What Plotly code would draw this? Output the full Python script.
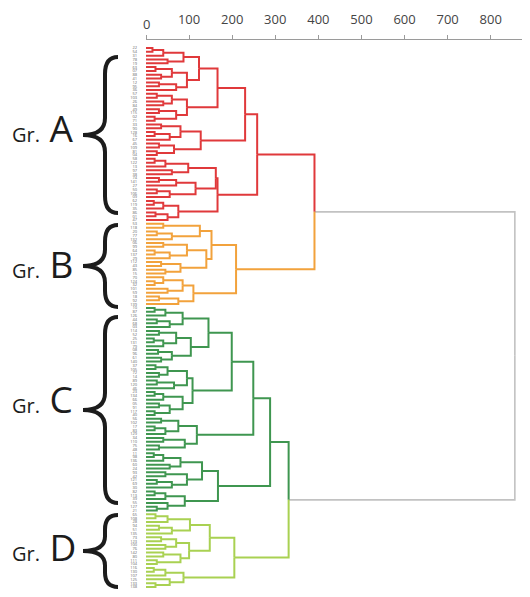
import plotly.graph_objects as go

# ---------------- data ----------------
x_tick_values = [0, 100, 200, 300, 400, 500, 600, 700, 800]
x_tick_labels = ["", "100", "200", "300", "400", "500", "600", "700", "800"]

group_names = ["A", "B", "C", "D"]
group_colors = ["#e0393b", "#f2a23c", "#3f9650", "#a9d152"]
link_grey = "#c2c2c2"

# merge heights above the four groups
height_AB = 391
height_CD = 331
height_root = 856

# Group A : node = [merge height, left, right], leaf = sample label
A1a1 = [123,
        [87, [40, [15, "22", "54"], "31"], [50, "78", "19"]],
        [95, [60, [22, "63", "07"], [35, "88", "41"]], [70, [30, "12", "95"], "36"]]]
A1a2 = [95, [60, [25, "57", "103"], [40, "26", "84"]], [70, [30, "49", "115"], [20, "02", "71"]]]
A1b = [127, [80, [35, "33", "90"], [55, [20, "128", "16"], "67"]], [65, [30, "45", "109"], [25, "81", "04"]]]
A2x1 = [98, [45, [20, "58", "122"], "13"], [60, "97", "38"]]
A2x2 = [115, [70, [30, "74", "141"], "27"], [55, [25, "50", "106"], "09"]]
A2y = [75, [40, [18, "62", "119"], "35"], [50, [22, "86", "01"], "47"]]
group_A = [258, [230, [166, A1a1, A1a2], A1b], [166, [162, A2x1, A2x2], A2y]]

# Group B
B1a = [125, [40, "53", "118"], [60, [25, "20", "77"], "132"]]
B1b = [140, [95, [40, "06", "99"], [55, [20, "64", "137"], "29"]], [80, [35, "112", "43"], [45, "85", "15"]]]
B2 = [110, [85, [40, "70", [20, "124", "32"]], [50, "101", "59"]], [75, [30, "18", "92"], "139"]]
group_B = [209, [152, B1a, B1b], B2]

# Group C
C1a1a = [85, [45, [20, "10", "87"], "126"], [55, [25, "44", "68"], "03"]]
C1a1b = [104, [70, [30, "114", "52"], [40, [18, "25", "131"], "79"]], [60, [28, "08", "96"], [35, "61", "140"]]]
C1a2 = [108, [95, [50, [22, "37", "105"], [30, "72", "14"]], [65, [25, "89", "120"], "46"]],
        [85, [40, [20, "23", "134"], "66"], [55, [30, "05", "91"], [20, "117", "40"]]]]
C1b = [118, [75, [35, "56", "102"], [45, [20, "17", "83"], "129"]], [90, [40, "34", "110"], [30, "75", "48"]]]
C2a = [130, [80, [40, [18, "11", "98"], "136"], [55, "60", "24"]], [95, [45, "93", "42"], [60, [25, "121", "69"], "30"]]]
C2b = [90, [45, [20, "82", "113"], "39"], [50, "55", [25, "127", "21"]]]
group_C = [288, [249, [199, [145, C1a1a, C1a1b], C1a2], C1b], [167, C2a, C2b]]

# Group D
D1a = [102, [50, [22, "65", "108"], "28"], [60, [30, "94", "51"], "135"]]
D1b = [100, [70, [35, "73", "123"], [45, "100", "76"]], [80, [40, "142", "80"], [25, "111", "104"]]]
D2 = [87, [45, [18, "116", "130"], "107"], [55, "125", [22, "133", "138"]]]
group_D = [205, [148, D1a, D1b], D2]

# ---------------- layout constants (pixels of the target picture) ----------------
PAGE_OFFSET = 8            # default body margin of the html page
W, H = 530 - PAGE_OFFSET, 597 - PAGE_OFFSET
plot_left = 146
axis_top = 40
first_leaf_px, last_leaf_px = 48, 587
px_per_unit = 0.4309

brace_tops = [57, 225, 317, 515]
brace_bottoms = [213, 307, 503, 587]
label_centers = [127, 263, 398, 546]


def px_x(v):
    return (v - PAGE_OFFSET) / W


def px_y(v):
    return 1 - (v - PAGE_OFFSET) / H


# ---------------- build dendrogram ----------------
groups = {"A": group_A, "B": group_B, "C": group_C, "D": group_D}
color_of = dict(zip(group_names, group_colors))
full_tree = [height_root,
             [height_AB, {"g": "A"}, {"g": "B"}],
             [height_CD, {"g": "C"}, {"g": "D"}]]

leaves = []
segments = {}


def walk(node, color):
    if isinstance(node, dict):
        return walk(groups[node["g"]], color_of[node["g"]])
    if isinstance(node, str):
        leaves.append(node)
        return len(leaves) - 1, 0.0, color
    h, left, right = node
    yl, hl, cl = walk(left, color)
    yr, hr, cr = walk(right, color)
    ym = (yl + yr) / 2
    xs, ys = segments.setdefault(cl, ([], []))
    xs += [hl, h, h, None]
    ys += [yl, yl, ym, None]
    xs, ys = segments.setdefault(cr, ([], []))
    xs += [hr, h, h, None]
    ys += [yr, yr, ym, None]
    return ym, h, color


walk(full_tree, link_grey)
n = len(leaves)

fig = go.Figure()
order = [link_grey] + group_colors
for col in order:
    if col not in segments:
        continue
    xs, ys = segments[col]
    fig.add_trace(go.Scatter(
        x=xs, y=ys, mode="lines",
        line=dict(color=col, width=1.6 if col == link_grey else 2),
        hoverinfo="skip", showlegend=False))

spacing = (last_leaf_px - first_leaf_px) / (n - 1)
y_top_val = -(first_leaf_px - axis_top) / spacing
y_bot_val = (n - 1) + (597 - last_leaf_px) / spacing
x_max_val = (530 - plot_left) / px_per_unit

shapes = []
for y0, y1 in zip(brace_tops, brace_bottoms):
    xe, xsp, xt = 118, 105, 83
    ym = (y0 + y1) / 2
    r = min(17, (y1 - y0) / 5)
    pts = [("M", xe, y0), ("Q", xsp, y0), ("", xsp, y0 + r), ("L", xsp, ym - r),
           ("Q", xsp, ym), ("", xt, ym), ("Q", xsp, ym), ("", xsp, ym + r),
           ("L", xsp, y1 - r), ("Q", xsp, y1), ("", xe, y1)]
    path = " ".join(f"{c} {px_x(a):.5f},{px_y(b):.5f}".strip() for c, a, b in pts)
    shapes.append(dict(type="path", path=path, xref="paper", yref="paper",
                       line=dict(color="#1c1c1c", width=4), layer="above"))

annotations = []
for name, yc in zip(group_names, label_centers):
    annotations.append(dict(
        x=px_x(10), y=px_y(yc), xref="paper", yref="paper",
        xanchor="left", yanchor="middle",
        text=f"Gr.<span style='font-size:37px'> {name}</span>", showarrow=False,
        font=dict(family="Open Sans", size=20, color="#1c1c1c")))
annotations.append(dict(x=0, y=px_y(24), xref="x", yref="paper", text="0", showarrow=False,
                        xanchor="center", yanchor="middle",
                        font=dict(family="Open Sans", size=13, color="#444")))

fig.update_layout(
    width=W, height=H, margin=dict(l=0, r=0, t=0, b=0, pad=0),
    plot_bgcolor="white", paper_bgcolor="white",
    hovermode=False,
    shapes=shapes, annotations=annotations,
    xaxis=dict(domain=[px_x(plot_left), 1], range=[0, x_max_val], side="top",
               tickvals=x_tick_values, ticktext=x_tick_labels,
               showline=True, linecolor="#9a9a9a", linewidth=1,
               ticks="outside", ticklen=4, tickcolor="#9a9a9a",
               ticklabelstandoff=6,
               tickfont=dict(family="Open Sans", size=13, color="#444"),
               showgrid=False, zeroline=False),
    yaxis=dict(domain=[0, px_y(axis_top)], range=[y_bot_val, y_top_val],
               tickvals=list(range(n)), ticktext=leaves,
               tickfont=dict(family="Open Sans", size=4, color="#666"),
               ticks="", showline=False, showgrid=False, zeroline=False,
               ticklabelstandoff=8),
)

fig.write_html("out.html")
